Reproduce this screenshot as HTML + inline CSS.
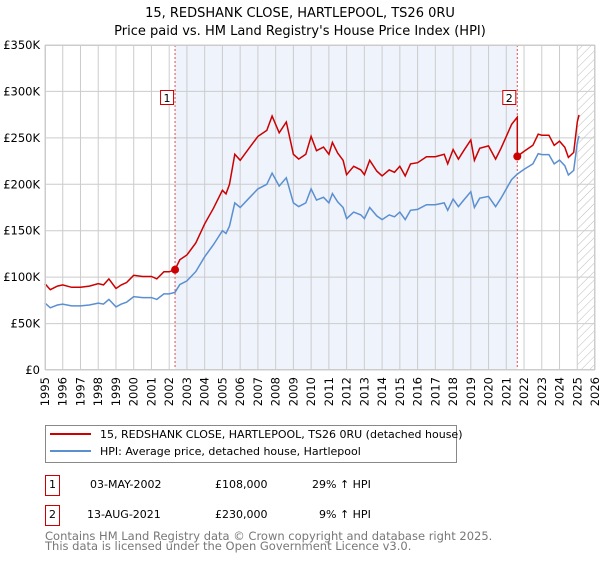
<!DOCTYPE html>
<html><head><meta charset="utf-8"><style>
body{margin:0;background:#fff;font-family:"Liberation Sans","DejaVu Sans",sans-serif;}
svg text{font-family:"DejaVu Sans","Liberation Sans",sans-serif;}
</style></head><body>
<svg id="c" width="600" height="560" xmlns="http://www.w3.org/2000/svg">
<text x="300" y="17" text-anchor="middle" font-size="13">15, REDSHANK CLOSE, HARTLEPOOL, TS26 0RU</text>
<text x="300" y="35" text-anchor="middle" font-size="13">Price paid vs. HM Land Registry's House Price Index (HPI)</text>
<defs><pattern id="hatch" width="6" height="6" patternUnits="userSpaceOnUse" patternTransform="rotate(45)"><line x1="0" y1="0" x2="0" y2="6" stroke="#bbb" stroke-width="1"/></pattern></defs>
<g id="plot"></g>
<g>
<rect x="45.5" y="425.5" width="411" height="37" fill="#fff" stroke="#888"/>
<line x1="50" y1="434" x2="91" y2="434" stroke="#cc0000" stroke-width="2"/>
<text x="100" y="438" font-size="11">15, REDSHANK CLOSE, HARTLEPOOL, TS26 0RU (detached house)</text>
<line x1="50" y1="451" x2="91" y2="451" stroke="#5b8fd0" stroke-width="2"/>
<text x="100" y="455" font-size="11">HPI: Average price, detached house, Hartlepool</text>
</g>
<g font-size="11">
<rect x="45.5" y="475.5" width="14" height="20" fill="none" stroke="#cc0000"/><text x="52.5" y="488" text-anchor="middle">1</text>
<text x="90" y="488">03-MAY-2002</text><text x="215" y="488">£108,000</text><text x="312" y="488">29% ↑ HPI</text>
<rect x="45.5" y="505.5" width="14" height="20" fill="none" stroke="#cc0000"/><text x="52.5" y="518" text-anchor="middle">2</text>
<text x="87" y="518">13-AUG-2021</text><text x="215" y="518">£230,000</text><text x="319" y="518">9% ↑ HPI</text>
</g>
<text x="45" y="540" font-size="11.5" fill="#777">Contains HM Land Registry data © Crown copyright and database right 2025.</text>
<text x="45" y="550" font-size="11.5" fill="#777">This data is licensed under the Open Government Licence v3.0.</text>
</svg>
<script>
const yTicks=[0,50,100,150,200,250,300,350];
const yTickLabels=["£0","£50K","£100K","£150K","£200K","£250K","£300K","£350K"];
const xYears=[1995,1996,1997,1998,1999,2000,2001,2002,2003,2004,2005,2006,2007,2008,2009,2010,2011,2012,2013,2014,2015,2016,2017,2018,2019,2020,2021,2022,2023,2024,2025,2026];
const hpiDates=[1995.0,1995.3,1995.7,1996.0,1996.5,1997.0,1997.5,1998.0,1998.3,1998.6,1999.0,1999.3,1999.6,2000.0,2000.5,2001.0,2001.3,2001.7,2002.0,2002.33,2002.6,2003.0,2003.5,2004.0,2004.5,2005.0,2005.2,2005.4,2005.7,2006.0,2006.5,2007.0,2007.5,2007.8,2008.2,2008.6,2009.0,2009.3,2009.7,2010.0,2010.3,2010.7,2011.0,2011.2,2011.5,2011.8,2012.0,2012.4,2012.8,2013.0,2013.3,2013.7,2014.0,2014.4,2014.7,2015.0,2015.3,2015.6,2016.0,2016.5,2017.0,2017.5,2017.7,2018.0,2018.3,2018.6,2019.0,2019.2,2019.5,2020.0,2020.4,2020.7,2021.0,2021.3,2021.62,2022.0,2022.5,2022.8,2023.0,2023.4,2023.7,2024.0,2024.3,2024.5,2024.8,2025.0,2025.1];
const hpiValues=[72,67,70,71,69,69,70,72,71,76,68,71,73,79,78,78,76,82,82,83.7,92,96,106,122,135,150,147,155,180,175,185,195,200,212,198,207,180,176,180,195,183,186,180,190,181,175,163,170,167,163,175,166,162,167,165,170,162,172,173,178,178,180,172,184,176,183,192,175,185,187,176,185,195,205,211,216,222,233,232,232,222,226,220,210,215,245,252];
const saleDates=[2002.33,2021.62];
const salePrices=[108,230];
const saleLabels=["1","2"];

const NS="http://www.w3.org/2000/svg";
const L=45,R=595,T=45,B=370;
const X=d=>L+(d-1995)*(R-L)/31;
const Y=v=>B-v*(B-T)/350;
const g=document.getElementById('plot');
function mk(t,a){const e=document.createElementNS(NS,t);for(const k in a)e.setAttribute(k,a[k]);g.appendChild(e);return e;}
let e=mk('rect',{x:X(saleDates[0]),y:T,width:X(saleDates[1])-X(saleDates[0]),height:B-T,fill:'#eef3fc'});


e=mk('rect',{x:X(2025),y:T,width:R-X(2025),height:B-T,fill:'url(#hatch)'});


xYears.forEach(y=>{
 const l=mk('line',{x1:X(y),x2:X(y),y1:T,y2:B,stroke:'#ccc','stroke-width':1});
 
 
 const t=mk('text',{x:X(y)+4,y:B+7,'font-size':11.5,'text-anchor':'end',transform:`rotate(-90 ${X(y)+4} ${B+7})`});
 t.textContent=y;
 
 
});
yTicks.forEach((v,i)=>{
 const l=mk('line',{x1:L,x2:R,y1:Y(v),y2:Y(v),stroke:'#ccc','stroke-width':1});
 
 
 const t=mk('text',{x:L-5,y:Y(v)+4,'font-size':11.5,'text-anchor':'end'});
 t.textContent=yTickLabels[i];
 
 
});
saleDates.forEach((d,i)=>{
 const l=mk('line',{x1:X(d),x2:X(d),y1:T,y2:B,stroke:'#e05050','stroke-width':1,'stroke-dasharray':'2,2'});
 
 
 const r=mk('rect',{x:X(d)-14.5,y:90.5,width:13,height:14,fill:'#fff',stroke:'#cc0000'});
 
 
 const t=mk('text',{x:X(d)-8,y:102,'font-size':11,'text-anchor':'middle'});
 t.textContent=saleLabels[i];
 
 
});
function hpiAt(d){for(let i=1;i<hpiDates.length;i++){if(d<=hpiDates[i]){const f=(d-hpiDates[i-1])/(hpiDates[i]-hpiDates[i-1]);return hpiValues[i-1]+f*(hpiValues[i]-hpiValues[i-1]);}}return hpiValues[hpiValues.length-1];}
const r0=salePrices[0]/hpiAt(saleDates[0]), r1=salePrices[1]/hpiAt(saleDates[1]);
let bp='',rp='',jumped=false;
hpiDates.forEach((d,i)=>{
 bp+=(i?'L':'M')+X(d).toFixed(1)+','+Y(hpiValues[i]).toFixed(1);
 if(d>=saleDates[1]&&!jumped){
  jumped=true;
  rp+='L'+X(saleDates[1]).toFixed(1)+','+Y(hpiAt(saleDates[1])*r0).toFixed(1);
  rp+='L'+X(saleDates[1]).toFixed(1)+','+Y(salePrices[1]).toFixed(1);
 }
 const ratio=d<saleDates[1]?r0:r1;
 rp+=(i?'L':'M')+X(d).toFixed(1)+','+Y(hpiValues[i]*ratio).toFixed(1);
});
e=mk('path',{d:bp,fill:'none',stroke:'#5b8fd0','stroke-width':1.5});


e=mk('path',{d:rp,fill:'none',stroke:'#cc0000','stroke-width':1.5});


saleDates.forEach((d,i)=>{
 const c=mk('circle',{cx:X(d),cy:Y(salePrices[i]),r:4,fill:'#cc0000'});
 
 
});
e=mk('rect',{x:L+0.5,y:T+0.5,width:R-L-1,height:B-T-1,fill:'none',stroke:'#ccc'});


</script>
</body></html>
